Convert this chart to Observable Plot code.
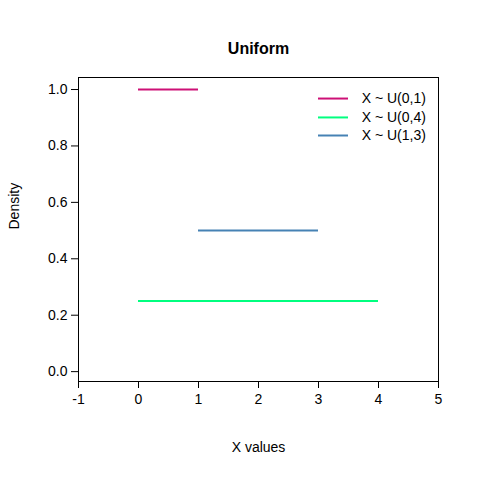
<!DOCTYPE html>
<html><head>
<meta charset="utf-8">
<script src="https://cdn.jsdelivr.net/npm/d3@7"></script>
<script src="https://cdn.jsdelivr.net/npm/@observablehq/plot@0.6"></script>
<style>body{margin:0;background:#fff}</style>
</head><body>
<div id="chart"></div>
<script>
const labels = ['X ~ U(0,1)', 'X ~ U(0,4)', 'X ~ U(1,3)']
const lows = [0, 0, 1]
const highs = [1, 4, 3]
const densities = [1, 0.25, 0.5]
const colors = ['#CD1076', '#00FF7F', '#4682B4']
const xTicks = [-1, 0, 1, 2, 3, 4, 5]
const yTicks = [0, 0.2, 0.4, 0.6, 0.8, 1.0]
// legend rows (data coords)
const legY = [0.968, 0.901, 0.837]

const segs = labels.map((l, i) => ({label: l, x1: lows[i], x2: highs[i], y: densities[i], c: colors[i], ly: legY[i]}))

const chart = Plot.plot({
  width: 480,
  height: 480,
  marginLeft: 78,
  marginRight: 42,
  marginTop: 77,
  marginBottom: 99,
  x: {domain: [-1, 5], label: null},
  y: {domain: [-0.035, 1.0426], label: null},
  style: {fontFamily: 'Liberation Sans, Arial, sans-serif', fontSize: '14px', color: 'black'},
  marks: [
    Plot.frame({stroke: 'black'}),
    Plot.axisX({ticks: xTicks, tickSize: 7, tickPadding: 6, fontSize: 14, tickFormat: d => String(d)}),
    Plot.axisY({ticks: yTicks, tickSize: 7, tickPadding: 4, fontSize: 14, tickFormat: d => d.toFixed(1)}),
    Plot.ruleY(segs, {y: 'y', x1: 'x1', x2: 'x2', stroke: 'c', strokeWidth: 2}),
    Plot.ruleY(segs, {y: 'ly', x1: 3.0, x2: 3.5, stroke: 'c', strokeWidth: 2}),
    Plot.text(segs, {y: 'ly', x: 3.72, text: 'label', textAnchor: 'start', fontSize: 14}),
    Plot.text(['Uniform'], {frameAnchor: 'top', dy: -35, fontWeight: 'bold', fontSize: 16}),
    Plot.text(['X values'], {frameAnchor: 'bottom', dy: 70, fontSize: 14}),
    Plot.text(['Density'], {frameAnchor: 'left', dx: -64, rotate: -90, fontSize: 14})
  ]
})
d3.select('#chart').append(() => chart)
</script>
</body></html>
